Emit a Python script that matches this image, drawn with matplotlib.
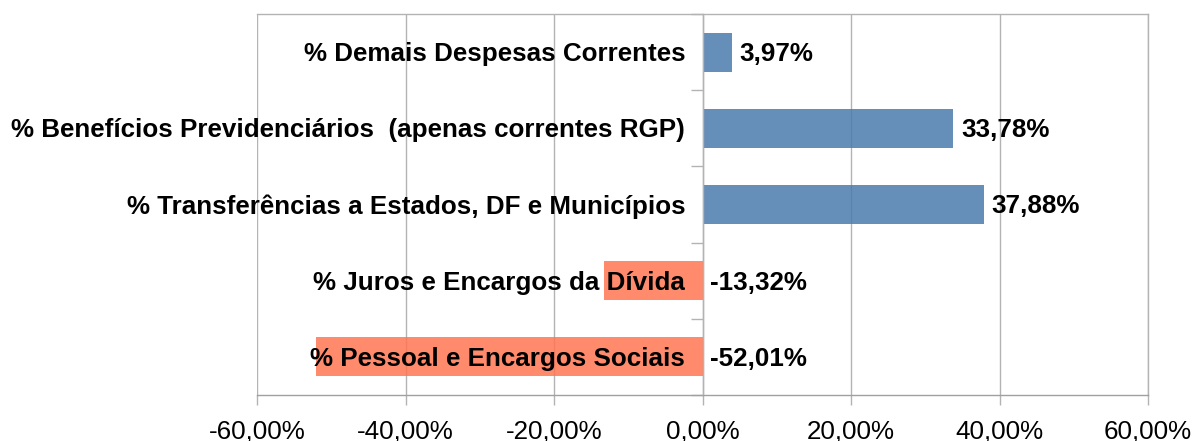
import matplotlib
matplotlib.use("Agg")
import matplotlib.pyplot as plt
from matplotlib.ticker import FuncFormatter

categories = [
    "% Pessoal e Encargos Sociais",
    "% Juros e Encargos da Dívida",
    "% Transferências a Estados, DF e Municípios",
    "% Benefícios Previdenciários  (apenas correntes RGP)",
    "% Demais Despesas Correntes",
]
values = [-52.01, -13.32, 37.88, 33.78, 3.97]
value_labels = ["-52,01%", "-13,32%", "37,88%", "33,78%", "3,97%"]
xticks = [-60, -40, -20, 0, 20, 40, 60]

blue = "#4a7bac"
salmon = "#ff7652"

plt.rcParams['font.family'] = ['Liberation Sans', 'DejaVu Sans']

fig = plt.figure(figsize=(11.93, 4.41), dpi=100)
ax = fig.add_axes([257/1193, 1-395/441, (1148-257)/1193, (395-14)/441])

colors = [salmon if v < 0 else blue for v in values]
ypos = list(range(len(categories)))
ax.barh(ypos, values, height=0.51, color=colors, alpha=0.85, zorder=2)

ax.set_xlim(-60, 60)
ax.set_ylim(-0.5, 4.5)
ax.set_xticks(xticks)
ax.xaxis.set_major_formatter(FuncFormatter(lambda v, p: f"{v:.2f}".replace(".", ",") + "%"))
ax.grid(axis='x', color='#b3b3b3', linewidth=1, zorder=1)
ax.set_axisbelow(True)

ax.set_yticks([i - 0.5 for i in range(len(categories) + 1)])
ax.set_yticklabels([])
ax.spines['left'].set_position(('data', 0))
for s in ['left', 'top', 'bottom', 'right']:
    ax.spines[s].set_color('#b3b3b3')
    ax.spines[s].set_linewidth(1)
ax.spines['bottom'].set_color('#a0a0a0')
ax.tick_params(axis='y', direction='out', length=8.5, color='#b3b3b3', width=1)
ax.tick_params(axis='x', direction='out', length=7, color='#b3b3b3', width=1,
               labelsize=18.7, pad=11)

for i, (cat, v, lab) in enumerate(zip(categories, values, value_labels)):
    ax.annotate(cat, xy=(0, i), xytext=(-12.5, -1.3), textcoords='offset points',
                ha='right', va='center', fontsize=18.7, fontweight='bold', zorder=4)
    x0 = max(v, 0)
    ax.annotate(lab, xy=(x0, i), xytext=(5.5, -1.3), textcoords='offset points',
                ha='left', va='center', fontsize=18.7, fontweight='bold', zorder=4)

fig.savefig("out.png", dpi=100)
